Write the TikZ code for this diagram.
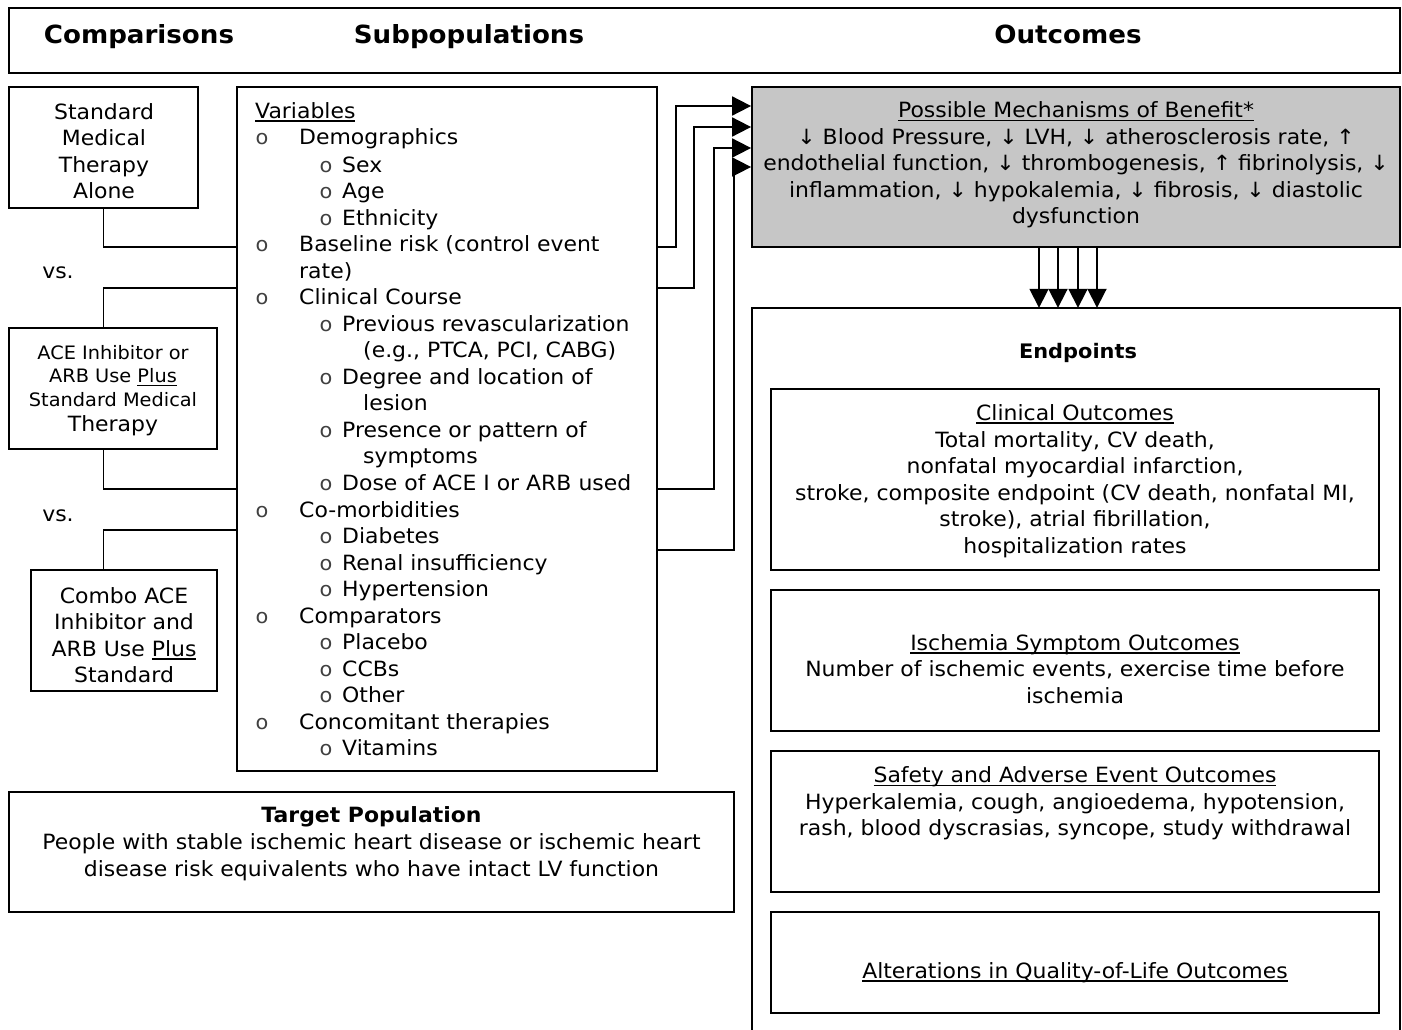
\documentclass[tikz,border=0pt]{standalone}
\usepackage{fontspec}
\setmainfont{DejaVu Sans}[FakeStretch=1.045]
\usetikzlibrary{arrows.meta}
\definecolor{mechfill}{RGB}{198,198,198}
\newcommand{\myul}[1]{\setbox0\hbox{#1}\rlap{\rule[-3.5pt]{\wd0}{1.6pt}}\box0}
\begin{document}
\begin{tikzpicture}[x=1pt,y=-1pt,
  box/.style={draw, line width=1.8pt, inner sep=0pt},
  txt/.style={font=\fontsize{21}{26.5}\selectfont, align=center, inner sep=0pt},
  head/.style={font=\bfseries\fontsize{25}{30}\selectfont, inner sep=0pt, anchor=base},
  subhead/.style={font=\bfseries\fontsize{21}{26}\selectfont, inner sep=0pt, anchor=base},
  li/.style={font=\fontsize{21}{26.5}\selectfont, anchor=base west, inner sep=0pt},
  bull/.style={font=\fontsize{20}{20}\selectfont, anchor=base, inner sep=0pt, text=black!75},
  conn/.style={line width=1.8pt},
  arr/.style={line width=1.8pt, -{Triangle[length=19pt,width=19pt]}},
]
\useasboundingbox (0,0) rectangle (1402,1030);
\fill[white] (0,0) rectangle (1402,1030);

% header
\node[box, minimum width=1391pt, minimum height=65pt] (hdr) at (704.5,40.5) {};
\node[head] (hC) at (139,43.5) {Comparisons};
\node[head] (hS) at (469,43.5) {Subpopulations};
\node[head] (hO) at (1068,43.5) {Outcomes};

% comparison boxes
\node[box, minimum width=189pt, minimum height=121pt] (smt) at (103.5,147.5) {};
\node[txt] (smtT) at (104,151) {Standard\\Medical\\Therapy\\Alone};
\node[box, minimum width=208pt, minimum height=121pt] (ace) at (113,388.5) {};
\node[txt, font=\fontsize{18.5}{23.5}\selectfont] (aceT) at (113,376) {ACE Inhibitor or\\ARB Use \myul{Plus}\\Standard Medical};
\node[txt, anchor=base] (aceT2) at (113,431) {Therapy};
\node[box, minimum width=186pt, minimum height=121pt] (combo) at (124,630.5) {};
\node[txt] (comboT) at (124,635) {Combo ACE\\Inhibitor and\\ARB Use \myul{Plus}\\Standard};
\node[txt, anchor=base] (vs1) at (58,278) {vs.};
\node[txt, anchor=base] (vs2) at (58,521) {vs.};

% variables box
\node[box, minimum width=420pt, minimum height=684pt] (var) at (447,429) {};
\node[li] (v0) at (255,118) {\myul{Variables}};
\foreach \y/\x/\t [count=\i] in {
  137/299/Demographics, 164/342/Sex, 190/342/Age, 217/342/Ethnicity,
  243/299/Baseline risk (control event, 270/299/rate),
  296/299/Clinical Course, 323/342/Previous revascularization,
  349/363/{(e.g., PTCA, PCI, CABG)}, 376/342/Degree and location of,
  402/363/lesion, 429/342/Presence or pattern of, 455/363/symptoms,
  482/342/Dose of ACE I or ARB used, 509/299/Co-morbidities,
  535/342/Diabetes, 562/342/Renal insufficiency, 588/342/Hypertension,
  615/299/Comparators, 641/342/Placebo, 668/342/CCBs, 694/342/Other,
  721/299/Concomitant therapies, 747/342/Vitamins}
  \node[li] (v\i) at (\x,\y+8) {\t};
\foreach \y [count=\i] in {137,243,296,509,615,721}
  \node[bull] (ba\i) at (262,\y+8) {o};
\foreach \y [count=\i] in {164,190,217,323,376,429,482,535,562,588,641,668,694,747}
  \node[bull] (bb\i) at (326,\y+8) {o};

% target population
\node[box, minimum width=725pt, minimum height=120pt] (tgt) at (371.5,852) {};
\node[subhead] (tgtH) at (371.5,822) {Target Population};
\node[txt] (tgtT) at (371.5,857) {People with stable ischemic heart disease or ischemic heart\\disease risk equivalents who have intact LV function};

% mechanisms
\node[box, fill=mechfill, minimum width=648pt, minimum height=160pt] (mech) at (1076,167) {};
\node[txt] (mechT) at (1076,165) {\myul{Possible Mechanisms of Benefit*}\\
↓ Blood Pressure, ↓ LVH, ↓ atherosclerosis rate, ↑\\
endothelial function, ↓ thrombogenesis, ↑ fibrinolysis, ↓\\
inflammation, ↓ hypokalemia, ↓ fibrosis, ↓ diastolic\\
dysfunction};

% outcomes
\node[minimum width=648pt, minimum height=722pt, inner sep=0pt] (outc) at (1076,669) {};
\draw[conn] (outc.south west) |- (outc.north east) -- (outc.south east);
\node[subhead, font=\bfseries\fontsize{20}{24}\selectfont] (endp) at (1078,358) {Endpoints};
\node[box, minimum width=608pt, minimum height=181pt] (clin) at (1075,479.5) {};
\node[txt] (clinT) at (1075,481) {\myul{Clinical Outcomes}\\Total mortality, CV death,\\nonfatal myocardial infarction,\\stroke, composite endpoint (CV death, nonfatal MI,\\stroke), atrial fibrillation,\\hospitalization rates};
\node[box, minimum width=608pt, minimum height=141pt] (isch) at (1075,660.5) {};
\node[txt] (ischT) at (1075,669) {\myul{Ischemia Symptom Outcomes}\\Number of ischemic events, exercise time before\\ischemia};
\node[box, minimum width=608pt, minimum height=141pt] (safe) at (1075,821.5) {};
\node[txt] (safeT) at (1075,803.5) {\myul{Safety and Adverse Event Outcomes}\\Hyperkalemia, cough, angioedema, hypotension,\\rash, blood dyscrasias, syncope, study withdrawal};
\node[box, minimum width=608pt, minimum height=101pt] (qol) at (1075,962.5) {};
\node[txt, anchor=base] (qolT) at (1075,978) {\myul{Alterations in Quality-of-Life Outcomes}};

% left connectors
\draw[conn] (smt.south) |- (var.west |- 0,247);
\draw[conn] (var.west |- 0,288) -| (smt.south |- ace.north);
\draw[conn] (smt.south |- ace.south) |- (var.west |- 0,489);
\draw[conn] (var.west |- 0,530) -| (smt.south |- combo.north);

% right connectors with arrows
\draw[arr] (var.east |- 0,247) -| (676,106) -- (mech.west |- 0,106);
\draw[arr] (var.east |- 0,288) -| (694,127) -- (mech.west |- 0,127);
\draw[arr] (var.east |- 0,489) -| (714,148) -- (mech.west |- 0,148);
\draw[arr] (var.east |- 0,550) -| (734,167) -- (mech.west |- 0,167);

% down arrows
\foreach \x in {1039,1058,1078,1097}
  \draw[arr] (mech.south -| \x,0) -- (outc.north -| \x,0);
\end{tikzpicture}
\end{document}
